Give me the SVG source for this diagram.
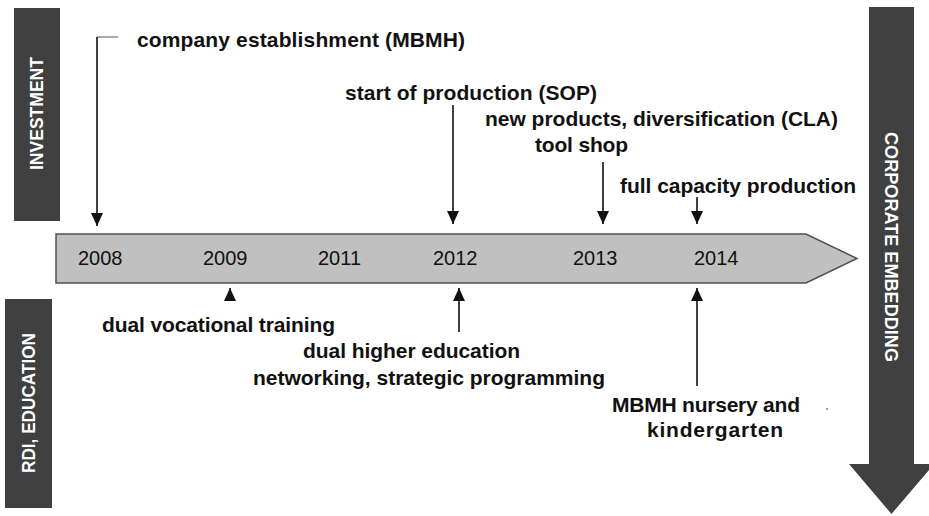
<svg xmlns="http://www.w3.org/2000/svg" width="929" height="516" viewBox="0 0 929 516">
  <style>
    .band { fill: #404040; }
    .band-label { fill: #ffffff; font-family: "Liberation Sans", Arial, sans-serif; font-weight: bold; font-size: 18px; text-anchor: middle; }
    .year { fill: #111111; font-family: "Liberation Sans", Arial, sans-serif; font-size: 20px; }
    .event { fill: #111111; font-family: "Liberation Sans", Arial, sans-serif; font-weight: bold; font-size: 21px; }
    .conn { stroke: #111111; stroke-width: 1.6; fill: none; }
  </style>
  <defs>
    <marker id="head" markerUnits="userSpaceOnUse" markerWidth="14" markerHeight="12" refX="13" refY="6" orient="auto">
      <path d="M0,0 L13,6 L0,12 Z" fill="#111111"/>
    </marker>
  </defs>

  <rect width="929" height="516" fill="#ffffff"/>

  <!-- side bands -->
  <g id="investment">
    <rect class="band" x="14" y="8" width="46" height="213"/>
    <text class="band-label" transform="translate(43,113.5) rotate(-90)" textLength="113" lengthAdjust="spacingAndGlyphs">INVESTMENT</text>
  </g>
  <g id="rdi-education">
    <rect class="band" x="5" y="299" width="47" height="209"/>
    <text class="band-label" transform="translate(35,403) rotate(-90)" textLength="140" lengthAdjust="spacingAndGlyphs">RDI, EDUCATION</text>
  </g>
  <g id="corporate-embedding">
    <polygon class="band" points="869,7 914,7 914,464 934,464 891.5,514 849,464 869,464"/>
    <text class="band-label" transform="translate(885,247) rotate(90)" textLength="230" lengthAdjust="spacingAndGlyphs">CORPORATE  EMBEDDING</text>
  </g>

  <!-- timeline bar -->
  <g id="timeline">
    <polygon points="56,234 806,234 857,258.5 806,283 56,283" fill="#c0c0c0" stroke="#505050" stroke-width="1.5"/>
    <text class="year" x="78" y="265">2008</text>
    <text class="year" x="203" y="265">2009</text>
    <text class="year" x="318" y="265">2011</text>
    <text class="year" x="433" y="265">2012</text>
    <text class="year" x="573" y="265">2013</text>
    <text class="year" x="694" y="265">2014</text>
  </g>

  <!-- events above the bar -->
  <g id="ev-establishment">
    <text class="event" x="137" y="47" textLength="328" lengthAdjust="spacing">company establishment (MBMH)</text>
  </g>
  <g id="ev-sop">
    <text class="event" x="345" y="100" textLength="252" lengthAdjust="spacing">start of production (SOP)</text>
  </g>
  <g id="ev-new-products">
    <text class="event" x="485" y="126" textLength="353" lengthAdjust="spacing">new products, diversification (CLA)</text>
  </g>
  <g id="ev-tool-shop">
    <text class="event" x="535" y="152" textLength="93" lengthAdjust="spacing">tool shop</text>
  </g>
  <g id="ev-full-capacity">
    <text class="event" x="620" y="193" textLength="236" lengthAdjust="spacing">full capacity production</text>
  </g>

  <!-- events below the bar -->
  <g id="ev-vocational">
    <text class="event" x="102" y="332" textLength="233" lengthAdjust="spacing">dual vocational training</text>
  </g>
  <g id="ev-higher-education">
    <text class="event" x="303" y="358" textLength="217" lengthAdjust="spacing">dual higher education</text>
  </g>
  <g id="ev-networking">
    <text class="event" x="253" y="385" textLength="352" lengthAdjust="spacing">networking, strategic programming</text>
  </g>
  <g id="ev-nursery">
    <text class="event" x="612" y="412" textLength="188" lengthAdjust="spacing">MBMH nursery and</text>
    <text class="event" x="647" y="437" textLength="136" lengthAdjust="spacing">kindergarten</text>
  </g>

  <!-- connectors -->
  <g id="connectors">
    <line x1="97" y1="37" x2="118" y2="37" stroke="#8392a6" stroke-width="1.5"/>
    <line class="conn" x1="97" y1="37" x2="97" y2="226" marker-end="url(#head)"/>
    <line class="conn" x1="453" y1="105" x2="453" y2="224" marker-end="url(#head)"/>
    <line class="conn" x1="603" y1="162" x2="603" y2="224" marker-end="url(#head)"/>
    <line class="conn" x1="697" y1="197" x2="697" y2="224" marker-end="url(#head)"/>
    <line class="conn" x1="230" y1="300" x2="230" y2="288" marker-end="url(#head)"/>
    <line class="conn" x1="459" y1="332" x2="459" y2="288" marker-end="url(#head)"/>
    <line class="conn" x1="697" y1="386" x2="697" y2="288" marker-end="url(#head)"/>
  </g>

  <rect x="826" y="408" width="2" height="2" fill="#a0a0a0"/>
</svg>
